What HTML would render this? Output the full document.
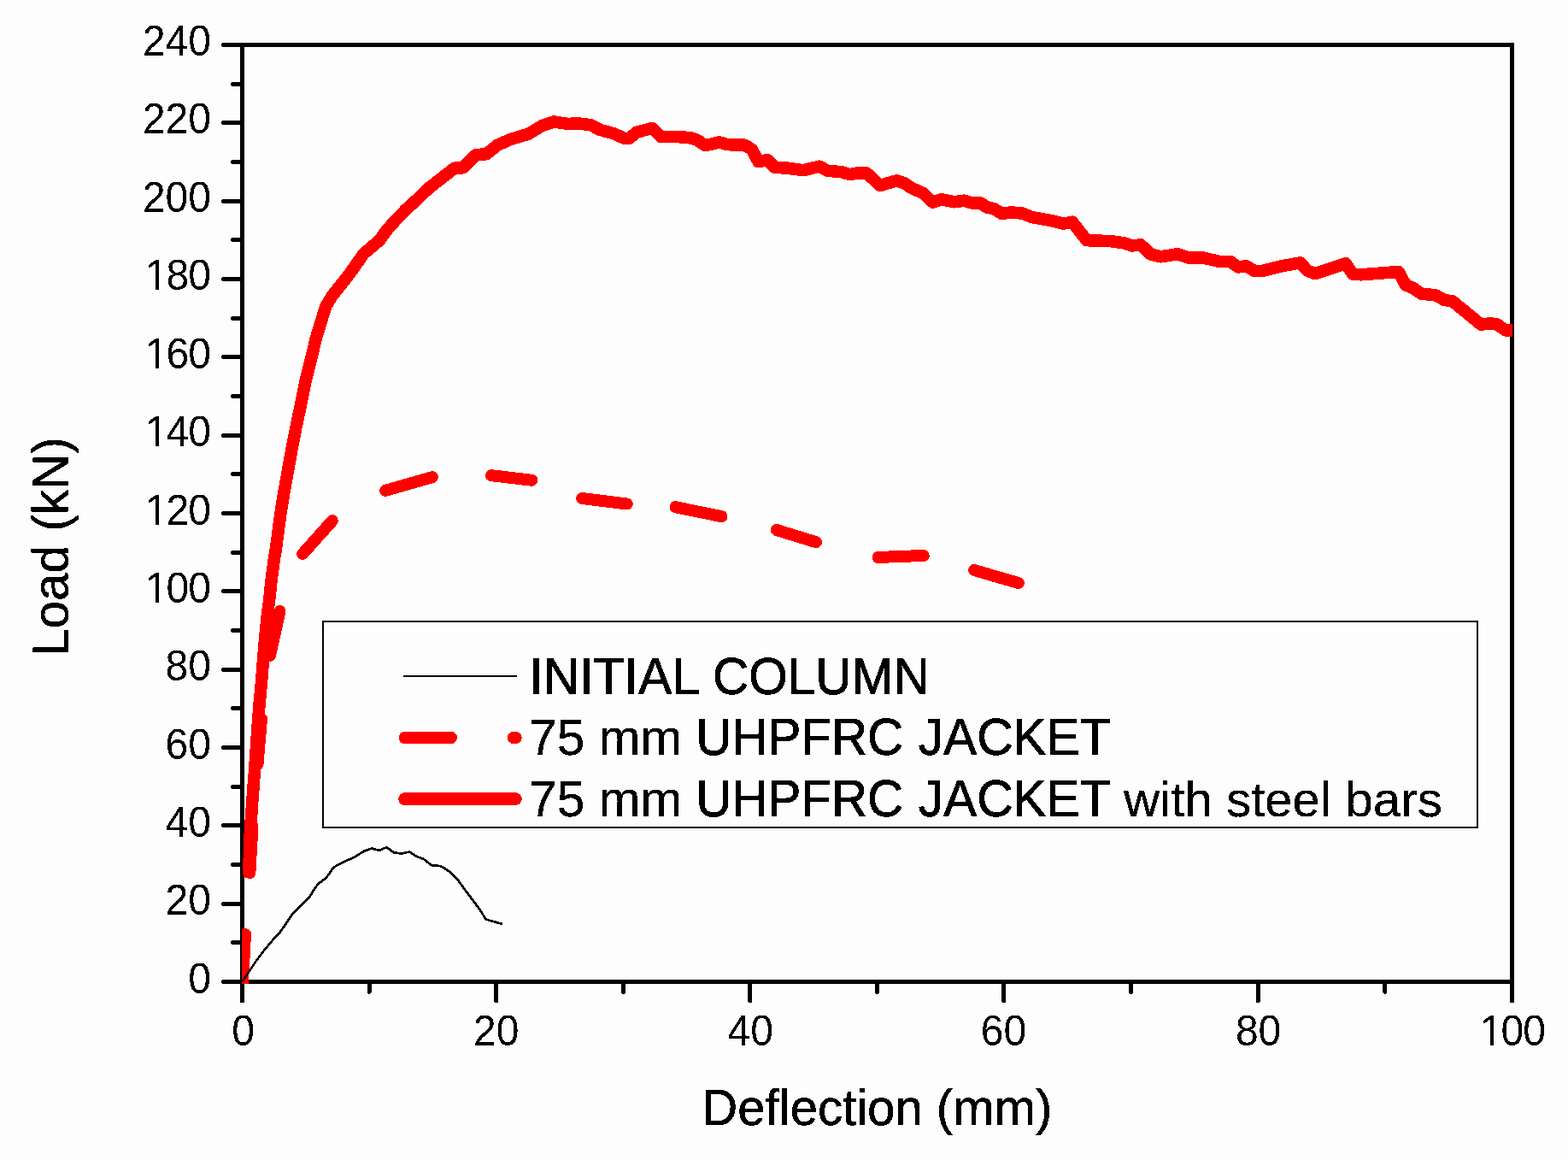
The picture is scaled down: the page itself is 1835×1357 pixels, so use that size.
<!DOCTYPE html>
<html lang="en"><head><meta charset="utf-8"><title>Load-Deflection</title>
<style>
html,body{margin:0;padding:0;background:#fdfdfd;}
body{width:1835px;height:1357px;overflow:hidden;}
svg{display:block;font-family:"Liberation Sans",Arial,sans-serif;}
</style></head><body>
<svg width="1835" height="1357" viewBox="0 0 1835 1357" shape-rendering="crispEdges">
<rect width="1835" height="1357" fill="#fdfdfd"/>
<defs><clipPath id="plot"><rect x="283" y="50" width="1487" height="1101"/></clipPath>
<clipPath id="one"><path d="M-5,-45H90V12H27.7V-3.8H19.05V2H14.85V-3.8H-5Z"/></clipPath>
<filter id="crisp" filterUnits="userSpaceOnUse" x="0" y="0" width="1835" height="1357" color-interpolation-filters="sRGB"><feComponentTransfer><feFuncA type="discrete" tableValues="0 1"/></feComponentTransfer></filter></defs>

<g stroke="#000" stroke-width="5" fill="none" stroke-linecap="butt">
<rect x="283.5" y="52.5" width="1486.0" height="1096.0"/>
</g>
<g stroke="#000" stroke-width="5" fill="none" stroke-linecap="round">
<line x1="261.5" y1="1148.5" x2="283.5" y2="1148.5"/>
<line x1="272.5" y1="1102.8" x2="283.5" y2="1102.8"/>
<line x1="261.5" y1="1057.2" x2="283.5" y2="1057.2"/>
<line x1="272.5" y1="1011.5" x2="283.5" y2="1011.5"/>
<line x1="261.5" y1="965.8" x2="283.5" y2="965.8"/>
<line x1="272.5" y1="920.2" x2="283.5" y2="920.2"/>
<line x1="261.5" y1="874.5" x2="283.5" y2="874.5"/>
<line x1="272.5" y1="828.8" x2="283.5" y2="828.8"/>
<line x1="261.5" y1="783.2" x2="283.5" y2="783.2"/>
<line x1="272.5" y1="737.5" x2="283.5" y2="737.5"/>
<line x1="261.5" y1="691.8" x2="283.5" y2="691.8"/>
<line x1="272.5" y1="646.2" x2="283.5" y2="646.2"/>
<line x1="261.5" y1="600.5" x2="283.5" y2="600.5"/>
<line x1="272.5" y1="554.8" x2="283.5" y2="554.8"/>
<line x1="261.5" y1="509.2" x2="283.5" y2="509.2"/>
<line x1="272.5" y1="463.5" x2="283.5" y2="463.5"/>
<line x1="261.5" y1="417.8" x2="283.5" y2="417.8"/>
<line x1="272.5" y1="372.2" x2="283.5" y2="372.2"/>
<line x1="261.5" y1="326.5" x2="283.5" y2="326.5"/>
<line x1="272.5" y1="280.8" x2="283.5" y2="280.8"/>
<line x1="261.5" y1="235.2" x2="283.5" y2="235.2"/>
<line x1="272.5" y1="189.5" x2="283.5" y2="189.5"/>
<line x1="261.5" y1="143.8" x2="283.5" y2="143.8"/>
<line x1="272.5" y1="98.2" x2="283.5" y2="98.2"/>
<line x1="261.5" y1="52.5" x2="283.5" y2="52.5"/>
<line x1="283.5" y1="1148.5" x2="283.5" y2="1170.9"/>
<line x1="432.1" y1="1148.5" x2="432.1" y2="1160.3"/>
<line x1="580.7" y1="1148.5" x2="580.7" y2="1170.9"/>
<line x1="729.3" y1="1148.5" x2="729.3" y2="1160.3"/>
<line x1="877.9" y1="1148.5" x2="877.9" y2="1170.9"/>
<line x1="1026.5" y1="1148.5" x2="1026.5" y2="1160.3"/>
<line x1="1174.6" y1="1148.5" x2="1174.6" y2="1170.9"/>
<line x1="1323.7" y1="1148.5" x2="1323.7" y2="1160.3"/>
<line x1="1472.3" y1="1148.5" x2="1472.3" y2="1170.9"/>
<line x1="1620.9" y1="1148.5" x2="1620.9" y2="1160.3"/>
<line x1="1769.5" y1="1148.5" x2="1769.5" y2="1170.9"/>
</g>
<g filter="url(#crisp)" stroke="#000" stroke-width="0" stroke-linejoin="miter">
<g font-size="48" fill="#000">
<text transform="translate(220.31,1161.8) scale(1,1.04)">0</text>
<text transform="translate(193.61,1069.7) scale(1,1.04)">20</text>
<text transform="translate(193.61,979.3) scale(1,1.04)">40</text>
<text transform="translate(193.61,887.7) scale(1,1.04)">60</text>
<text transform="translate(193.61,795.7) scale(1,1.04)">80</text>
<text transform="translate(166.91,705.1) scale(1,1.04)" x="2.80 27.59 53.39" clip-path="url(#one)">100</text>
<text transform="translate(166.91,614.0) scale(1,1.04)" x="2.80 27.59 53.39" clip-path="url(#one)">120</text>
<text transform="translate(166.91,521.7) scale(1,1.04)" x="2.80 27.59 53.39" clip-path="url(#one)">140</text>
<text transform="translate(166.91,431.0) scale(1,1.04)" x="2.80 27.59 53.39" clip-path="url(#one)">160</text>
<text transform="translate(166.91,339.0) scale(1,1.04)" x="2.80 27.59 53.39" clip-path="url(#one)">180</text>
<text transform="translate(166.91,247.7) scale(1,1.04)">200</text>
<text transform="translate(166.91,156.3) scale(1,1.04)">220</text>
<text transform="translate(166.91,65.0) scale(1,1.04)">240</text>
<text transform="translate(271.15,1223.0) scale(1,1.04)">0</text>
<text transform="translate(554.11,1223.0) scale(1,1.04)">20</text>
<text transform="translate(851.50,1223.0) scale(1,1.04)">40</text>
<text transform="translate(1147.80,1223.0) scale(1,1.04)">60</text>
<text transform="translate(1445.90,1223.0) scale(1,1.04)">80</text>
<text transform="translate(1728.86,1223.0) scale(1,1.04)" x="2.80 27.59 53.39" clip-path="url(#one)">100</text>
</g>
<text transform="translate(821.32,1315.9) scale(1,1.015)" font-size="58.13" stroke-width="0.55" text-anchor="start">Deflection (mm)</text>
<text transform="translate(79.4,767.81) rotate(-90) scale(1,1.015)" font-size="58.46" stroke-width="0.55" text-anchor="start">Load (kN)</text>
</g>
<g clip-path="url(#plot)" fill="none" stroke-linejoin="round" stroke-linecap="round">
<polyline stroke="#ff0000" stroke-width="14.5" points="291.2,1020.5 292.8,974.5 293.5,962.0 294.1,955.8 295.3,937.0 297.2,912.0 298.2,899.5 299.1,887.0 300.7,862.0 302.5,837.0 303.5,824.5 304.7,812.0 306.3,794.0 307.3,781.5 308.3,769.0 310.4,744.0 312.9,719.0 314.6,706.5 316.0,694.0 317.2,681.5 318.9,669.0 320.5,656.5 322.6,644.0 325.1,626.0 328.3,601.0 332.4,576.0 336.9,551.0 341.4,526.0 346.2,501.0 351.5,476.0 357.6,445.5 363.9,420.5 369.9,395.5 377.5,370.5 381.5,358.0 389.0,345.5 399.4,332.7 409.2,320.2 418.0,307.7 425.8,296.6 444.0,281.3 452.1,269.8 463.1,257.5 475.2,245.0 489.0,232.5 501.9,220.0 518.1,207.5 531.9,196.6 541.9,196.3 557.0,181.2 569.2,180.2 581.7,170.0 596.7,163.3 618.3,156.7 635.0,146.7 648.3,142.5 665.0,145.0 675.0,144.2 691.7,146.3 701.7,151.7 718.3,156.3 731.7,162.2 736.7,161.7 745.0,154.7 763.3,150.0 773.3,160.0 798.3,160.3 810.0,161.7 816.7,164.2 825.0,170.0 830.0,169.2 841.7,166.3 851.7,169.2 871.7,169.7 880.0,175.0 887.5,189.2 898.3,187.0 906.7,195.8 921.7,196.7 940.0,199.2 950.0,196.7 959.2,194.7 968.3,199.7 985.0,201.3 995.0,204.2 1003.3,202.5 1014.2,202.5 1030.0,217.0 1049.2,211.3 1058.3,214.2 1066.7,220.0 1080.0,225.8 1091.7,236.7 1101.7,233.3 1116.7,236.3 1128.3,234.7 1136.7,237.3 1147.5,237.5 1155.0,242.5 1163.3,244.2 1172.5,250.0 1183.3,248.3 1196.7,249.7 1208.3,254.2 1233.3,258.7 1244.2,261.7 1255.0,259.7 1271.7,281.2 1298.3,282.0 1315.0,284.2 1325.0,287.5 1335.0,286.3 1346.7,297.5 1358.3,300.3 1378.3,297.2 1390.0,301.3 1406.7,301.3 1426.7,305.8 1440.0,306.2 1449.2,312.5 1458.3,311.2 1468.3,317.0 1476.7,317.0 1500.0,311.3 1521.7,307.3 1530.0,316.7 1539.2,320.2 1575.0,308.3 1583.3,320.8 1593.3,321.3 1636.7,318.0 1645.0,333.3 1653.3,336.7 1663.3,343.7 1680.0,345.3 1690.0,350.8 1700.0,352.5 1733.3,379.7 1743.3,378.3 1751.7,379.2 1761.7,386.3 1775.0,387.0"/>
<polyline stroke="#ff0000" stroke-width="14" points="284.0,1148.5 287.0,1093.0"/>
<polyline stroke="#ff0000" stroke-width="14" points="292.4,1021.0 295.5,966.0"/>
<polyline stroke="#ff0000" stroke-width="14" points="301.5,894.0 306.0,841.0"/>
<polyline stroke="#ff0000" stroke-width="14" points="316.0,767.0 327.5,715.0"/>
<polyline stroke="#ff0000" stroke-width="14" points="354.2,648.0 388.8,609.2"/>
<polyline stroke="#ff0000" stroke-width="14" points="451.2,573.8 505.8,558.2"/>
<polyline stroke="#ff0000" stroke-width="14" points="575.0,556.2 622.5,561.8"/>
<polyline stroke="#ff0000" stroke-width="14" points="681.2,583.0 733.8,589.5"/>
<polyline stroke="#ff0000" stroke-width="14" points="790.5,593.2 844.5,604.2"/>
<polyline stroke="#ff0000" stroke-width="14" points="908.8,620.0 955.0,634.2"/>
<polyline stroke="#ff0000" stroke-width="14" points="1027.5,652.0 1057.5,650.8 1080.8,650.0"/>
<polyline stroke="#ff0000" stroke-width="14" points="1140.0,667.0 1191.8,682.0"/>
<polyline stroke="#000" stroke-width="2.7" stroke-linecap="butt" points="283.5,1148.5 300.0,1123.8 310.0,1110.6 320.0,1098.8 328.1,1090.0 335.0,1080.0 343.1,1068.1 352.5,1058.8 362.5,1048.8 368.8,1038.8 372.5,1033.8 381.9,1026.9 390.0,1015.0 397.5,1010.6 415.0,1002.5 426.2,995.6 435.0,992.5 443.8,994.8 452.5,991.2 460.6,997.2 470.0,998.5 479.4,996.5 487.5,1001.9 496.2,1005.2 505.0,1012.2 515.6,1013.1 523.1,1017.5 529.4,1022.5 535.0,1028.1 543.8,1040.6 552.5,1051.9 560.0,1061.9 568.8,1075.6 588.1,1081.0"/>
</g>
<rect x="378" y="726.7" width="1351" height="241" fill="none" stroke="#000" stroke-width="2"/>
<line x1="472" y1="790.7" x2="605" y2="790.7" stroke="#000" stroke-width="2"/>
<g stroke="#ff0000" stroke-width="14" stroke-linecap="round">
<line x1="473.5" y1="863" x2="528" y2="863"/>
<line x1="600.7" y1="863" x2="603.7" y2="863"/>
<line x1="473.5" y1="934.6" x2="603.5" y2="934.6" stroke-width="14.6"/>
</g>
<g font-size="59" fill="#000" filter="url(#crisp)" stroke="#000" stroke-linejoin="miter">
<text transform="translate(619.20,812.0) scale(0.9995,1.040)" stroke-width="0.9">INITIAL</text>
<text transform="translate(833.92,812.0) scale(0.9929,1.040)" stroke-width="0.9">COLUMN</text>
<text transform="translate(618.90,882.9) scale(0.9992,1.010)" stroke-width="0.25">75</text>
<text transform="translate(700.74,882.9) scale(0.9901,1.000)" stroke-width="0.25">mm</text>
<text transform="translate(814.15,882.9) scale(0.9891,1.040)" stroke-width="0.9">UHPFRC</text>
<text transform="translate(1074.71,882.9) scale(0.9940,1.040)" stroke-width="0.9">JACKET</text>
<text transform="translate(618.90,954.9) scale(0.9992,1.010)" stroke-width="0.25">75</text>
<text transform="translate(700.74,954.9) scale(0.9901,1.000)" stroke-width="0.25">mm</text>
<text transform="translate(814.15,954.9) scale(0.9891,1.040)" stroke-width="0.9">UHPFRC</text>
<text transform="translate(1074.71,954.9) scale(0.9940,1.040)" stroke-width="0.9">JACKET</text>
<text transform="translate(1315.00,954.9) scale(0.9901,0.985)" stroke-width="0.25">with</text>
<text transform="translate(1435.18,954.9) scale(0.9840,0.985)" stroke-width="0.25">steel</text>
<text transform="translate(1574.18,954.9) scale(0.9913,0.985)" stroke-width="0.25">bars</text>
</g>
</svg></body></html>
